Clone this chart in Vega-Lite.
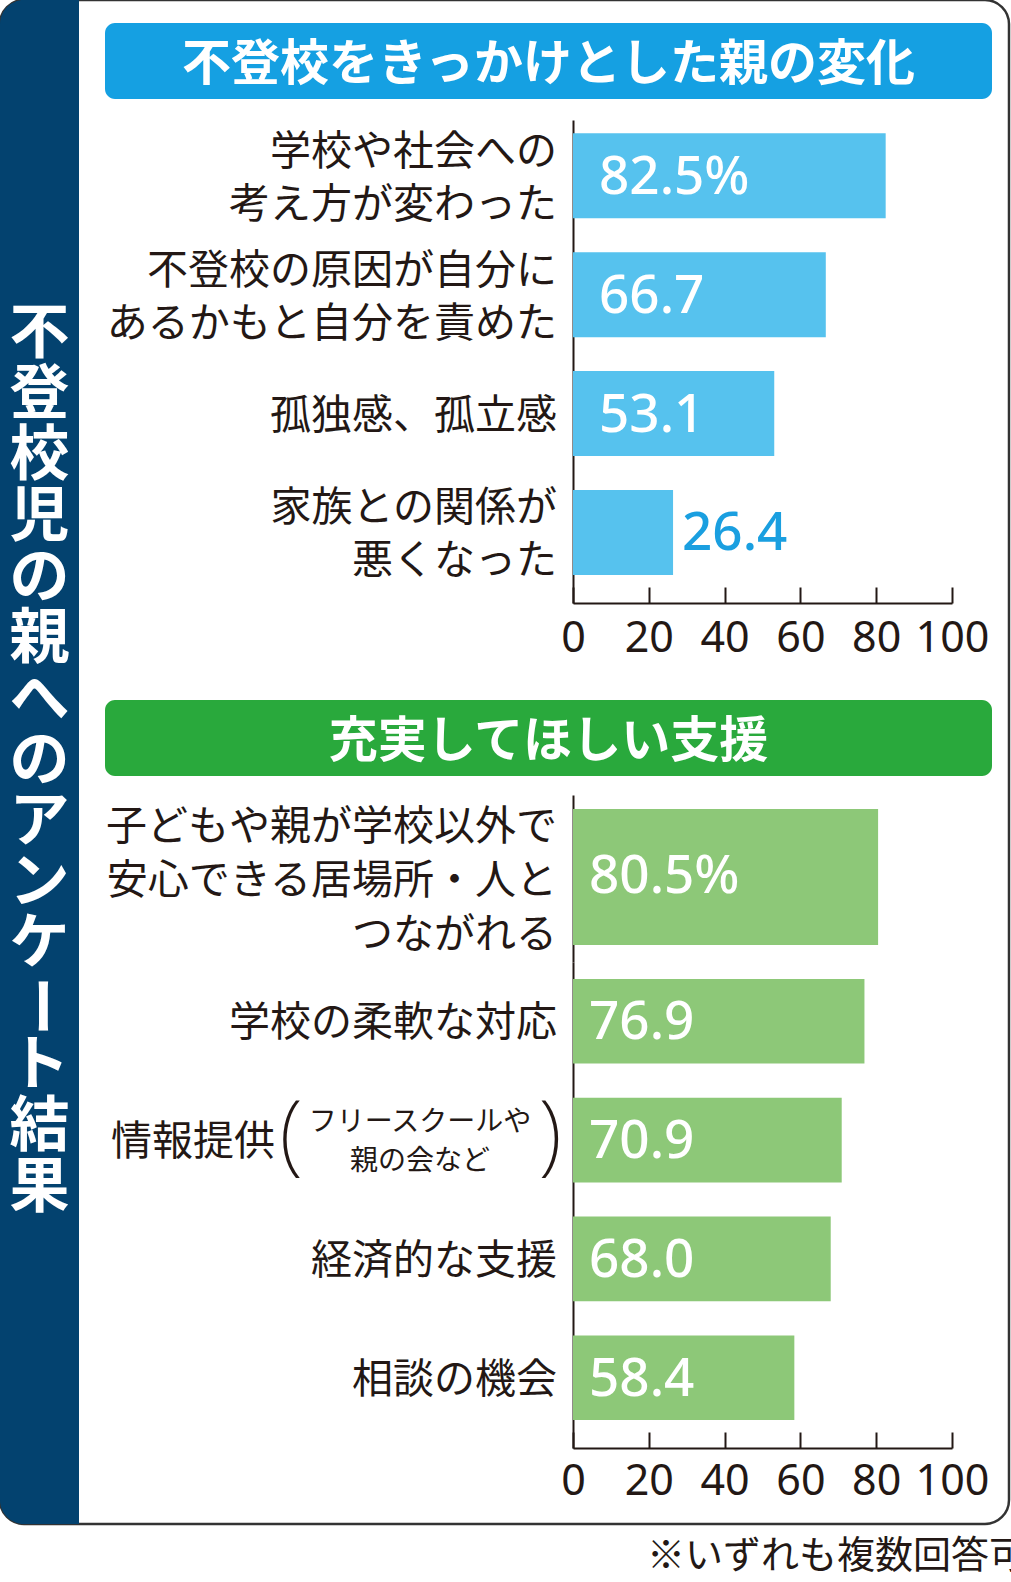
{
  "$schema": "https://vega.github.io/schema/vega-lite/v6.json",
  "width": 1009,
  "height": 1524,
  "autosize": "none",
  "padding": {"left": 0, "top": 0, "right": 2, "bottom": 58},
  "background": "#ffffff",
  "title": {
    "text": "※いずれも複数回答可",
    "orient": "bottom",
    "anchor": "end",
    "offset": 14,
    "dx": 18,
    "fontSize": 38,
    "fontWeight": "normal",
    "font": "Noto Sans CJK JP",
    "color": "#231815"
  },
  "datasets": {
    "band": [
      {"title": "不登校児の親へのアンケート結果", "part1": ["不", "登", "校", "児", "の", "親", "へ", "の", "ア", "ン", "ケ"], "dash": "ー", "part2": ["ト", "結", "果"]}
    ],
    "headers": [
      {"section": "不登校をきっかけとした親の変化"},
      {"section": "充実してほしい支援"}
    ],
    "changes": [
      {"item": "学校や社会への\n考え方が変わった", "value": 82.5, "vlabel": "82.5%"},
      {"item": "不登校の原因が自分に\nあるかもと自分を責めた", "value": 66.7, "vlabel": "66.7"},
      {"item": "孤独感、孤立感", "value": 53.1, "vlabel": "53.1"},
      {"item": "家族との関係が\n悪くなった", "value": 26.4, "vlabel": "26.4"}
    ],
    "support": [
      {"item": "子どもや親が学校以外で\n安心できる居場所・人と\nつながれる", "value": 80.5, "vlabel": "80.5%"},
      {"item": "学校の柔軟な対応", "value": 76.9, "vlabel": "76.9"},
      {"item": "情報提供", "note": "フリースクールや\n親の会など", "value": 70.9, "vlabel": "70.9"},
      {"item": "経済的な支援", "value": 68.0, "vlabel": "68.0"},
      {"item": "相談の機会", "value": 58.4, "vlabel": "58.4"}
    ]
  },
  "resolve": {"scale": {"x": "independent", "y": "independent", "color": "independent"}},
  "layer": [
    {
      "data": {"name": "band"},
      "encoding": {
        "x": {"datum": 0.5, "type": "quantitative", "scale": {"domain": [0, 1], "range": [0, 79]}, "axis": null},
        "y": {"datum": 0.5, "type": "quantitative", "scale": {"domain": [0, 1], "range": [0, 1524]}, "axis": null}
      },
      "layer": [
        {
          "mark": {"type": "rect", "color": "#03426f", "cornerRadiusTopLeft": 24, "cornerRadiusBottomLeft": 24},
          "encoding": {
            "x": {"datum": 0, "type": "quantitative"},
            "x2": {"datum": 1},
            "y": {"datum": 0, "type": "quantitative"},
            "y2": {"datum": 1}
          }
        },
        {
          "mark": {"type": "text", "font": "Noto Sans CJK JP", "fontWeight": "bold", "fontSize": 60, "lineHeight": 61, "align": "center", "baseline": "middle", "color": "#ffffff", "dy": -427},
          "encoding": {"text": {"field": "part1"}}
        },
        {
          "mark": {"type": "text", "font": "Noto Sans CJK JP", "fontWeight": "bold", "fontSize": 60, "align": "center", "baseline": "middle", "color": "#ffffff", "angle": 90, "dx": 244, "dy": 2},
          "encoding": {"text": {"field": "dash"}}
        },
        {
          "mark": {"type": "text", "font": "Noto Sans CJK JP", "fontWeight": "bold", "fontSize": 60, "lineHeight": 61, "align": "center", "baseline": "middle", "color": "#ffffff", "dy": 305},
          "encoding": {"text": {"field": "part2"}}
        }
      ]
    },
    {
      "data": {"name": "headers"},
      "encoding": {
        "y": {"field": "section", "type": "nominal", "sort": null, "scale": {"range": [23, 776], "paddingInner": 0.8877, "paddingOuter": 0}, "axis": null}
      },
      "layer": [
        {
          "mark": {"type": "bar", "cornerRadius": 10},
          "encoding": {
            "x": {"datum": 0, "type": "quantitative", "scale": {"domain": [0, 1], "range": [105, 992]}, "axis": null},
            "x2": {"datum": 1},
            "color": {"field": "section", "type": "nominal", "scale": {"domain": ["不登校をきっかけとした親の変化", "充実してほしい支援"], "range": ["#15a0e2", "#29a93c"]}, "legend": null}
          }
        },
        {
          "mark": {"type": "text", "font": "Noto Sans CJK JP", "fontWeight": "bold", "fontSize": 49, "align": "center", "baseline": "middle", "color": "#ffffff", "dy": 4},
          "encoding": {"x": {"datum": 0.5, "type": "quantitative"}, "text": {"field": "section"}}
        }
      ]
    },
    {
      "data": {"name": "changes"},
      "encoding": {
        "y": {
          "field": "item", "type": "nominal", "sort": null,
          "scale": {"range": [120, 603], "paddingInner": 0.285, "paddingOuter": 0.1737, "align": 0.322},
          "axis": {"orient": "left", "offset": -573, "labels": false, "ticks": false, "title": null, "grid": false, "domainColor": "#231815", "domainWidth": 2}
        }
      },
      "layer": [
        {
          "mark": {"type": "bar", "color": "#56c2ee"},
          "encoding": {
            "x": {
              "field": "value", "type": "quantitative",
              "scale": {"domain": [0, 100], "range": [573, 952], "nice": false},
              "axis": {"orient": "bottom", "offset": -921, "values": [0, 20, 40, 60, 80, 100], "title": null, "grid": false, "domainColor": "#231815", "domainWidth": 2, "tickColor": "#231815", "tickWidth": 2, "tickSize": -16, "labelPadding": 30, "labelFontSize": 43, "labelFont": "Noto Sans", "labelColor": "#231815", "labelFlush": false, "labelOverlap": false, "labelBaseline": "top"}
            }
          }
        },
        {
          "transform": [{"filter": "indexof(datum.item, '\\n') < 0"}],
          "mark": {"type": "text", "font": "Noto Sans CJK JP", "fontSize": 41, "lineHeight": 53, "lineBreak": "\n", "align": "right", "baseline": "middle", "dx": -16, "dy": 3, "color": "#231815"},
          "encoding": {"x": {"datum": 0, "type": "quantitative"}, "text": {"field": "item"}}
        },
        {
          "transform": [{"filter": "indexof(datum.item, '\\n') >= 0"}],
          "mark": {"type": "text", "font": "Noto Sans CJK JP", "fontSize": 41, "lineHeight": 53, "lineBreak": "\n", "align": "right", "baseline": "middle", "dx": -16, "dy": -23, "color": "#231815"},
          "encoding": {"x": {"datum": 0, "type": "quantitative"}, "text": {"field": "item"}}
        },
        {
          "transform": [{"filter": "datum.value >= 40"}],
          "mark": {"type": "text", "font": "Noto Sans", "fontWeight": 500, "fontSize": 53, "align": "left", "baseline": "middle", "dx": 26, "dy": 2, "color": "#ffffff"},
          "encoding": {"x": {"datum": 0, "type": "quantitative"}, "text": {"field": "vlabel"}}
        },
        {
          "transform": [{"filter": "datum.value < 40"}],
          "mark": {"type": "text", "font": "Noto Sans", "fontWeight": 500, "fontSize": 53, "align": "left", "baseline": "middle", "dx": 9, "dy": 2, "color": "#1a9fe0"},
          "encoding": {"x": {"field": "value", "type": "quantitative"}, "text": {"field": "vlabel"}}
        }
      ]
    },
    {
      "data": {"name": "support"},
      "transform": [{"filter": {"field": "item", "equal": "子どもや親が学校以外で\n安心できる居場所・人と\nつながれる"}}],
      "encoding": {
        "y": {
          "field": "item", "type": "nominal", "sort": null,
          "scale": {"range": [795, 962], "paddingInner": 0, "paddingOuter": 0.114, "align": 0.45},
          "axis": {"orient": "left", "offset": -573, "labels": false, "ticks": false, "title": null, "grid": false, "domainColor": "#231815", "domainWidth": 2}
        }
      },
      "layer": [
        {
          "mark": {"type": "bar", "color": "#8dc878"},
          "encoding": {
            "x": {"field": "value", "type": "quantitative", "scale": {"domain": [0, 100], "range": [573, 952], "nice": false}, "axis": null}
          }
        },
        {
          "mark": {"type": "text", "font": "Noto Sans CJK JP", "fontSize": 41, "lineHeight": 54, "lineBreak": "\n", "align": "right", "baseline": "middle", "dx": -16, "dy": -49, "color": "#231815"},
          "encoding": {"x": {"datum": 0, "type": "quantitative"}, "text": {"field": "item"}}
        },
        {
          "mark": {"type": "text", "font": "Noto Sans", "fontWeight": 500, "fontSize": 53, "align": "left", "baseline": "middle", "dx": 16, "dy": 0, "color": "#ffffff"},
          "encoding": {"x": {"datum": 0, "type": "quantitative"}, "text": {"field": "vlabel"}}
        }
      ]
    },
    {
      "data": {"name": "support"},
      "transform": [{"filter": {"not": {"field": "item", "equal": "子どもや親が学校以外で\n安心できる居場所・人と\nつながれる"}}}],
      "encoding": {
        "y": {
          "field": "item", "type": "nominal", "sort": null,
          "scale": {"range": [962, 1448], "paddingInner": 0.288, "paddingOuter": 0.1896, "align": 0.378},
          "axis": {"orient": "left", "offset": -573, "labels": false, "ticks": false, "title": null, "grid": false, "domainColor": "#231815", "domainWidth": 2}
        }
      },
      "layer": [
        {
          "mark": {"type": "bar", "color": "#8dc878"},
          "encoding": {
            "x": {
              "field": "value", "type": "quantitative",
              "scale": {"domain": [0, 100], "range": [573, 952], "nice": false},
              "axis": {"orient": "bottom", "offset": -76, "values": [0, 20, 40, 60, 80, 100], "title": null, "grid": false, "domainColor": "#231815", "domainWidth": 2, "tickColor": "#231815", "tickWidth": 2, "tickSize": -16, "labelPadding": 28, "labelFontSize": 43, "labelFont": "Noto Sans", "labelColor": "#231815", "labelFlush": false, "labelOverlap": false, "labelBaseline": "top"}
            }
          }
        },
        {
          "transform": [{"filter": "!isValid(datum.note)"}],
          "mark": {"type": "text", "font": "Noto Sans CJK JP", "fontSize": 41, "align": "right", "baseline": "middle", "dx": -16, "dy": 3, "color": "#231815"},
          "encoding": {"x": {"datum": 0, "type": "quantitative"}, "text": {"field": "item"}}
        },
        {
          "transform": [{"filter": "isValid(datum.note)"}],
          "mark": {"type": "text", "font": "Noto Sans CJK JP", "fontSize": 41, "align": "right", "baseline": "middle", "dx": -298, "dy": 3, "color": "#231815"},
          "encoding": {"x": {"datum": 0, "type": "quantitative"}, "text": {"field": "item"}}
        },
        {
          "transform": [{"filter": "isValid(datum.note)"}],
          "mark": {"type": "text", "font": "Noto Sans CJK JP", "fontSize": 28, "lineHeight": 39, "lineBreak": "\n", "align": "center", "baseline": "middle", "dx": -153, "dy": -17, "color": "#231815"},
          "encoding": {"x": {"datum": 0, "type": "quantitative"}, "text": {"field": "note"}}
        },
        {
          "transform": [{"filter": "isValid(datum.note)"}],
          "mark": {"type": "text", "text": "(", "font": "Noto Sans", "fontWeight": 200, "fontSize": 88, "align": "center", "baseline": "middle", "dx": -282, "dy": -2, "color": "#231815"},
          "encoding": {"x": {"datum": 0, "type": "quantitative"}}
        },
        {
          "transform": [{"filter": "isValid(datum.note)"}],
          "mark": {"type": "text", "text": ")", "font": "Noto Sans", "fontWeight": 200, "fontSize": 88, "align": "center", "baseline": "middle", "dx": -23, "dy": -2, "color": "#231815"},
          "encoding": {"x": {"datum": 0, "type": "quantitative"}}
        },
        {
          "mark": {"type": "text", "font": "Noto Sans", "fontWeight": 500, "fontSize": 53, "align": "left", "baseline": "middle", "dx": 16, "dy": 2, "color": "#ffffff"},
          "encoding": {"x": {"datum": 0, "type": "quantitative"}, "text": {"field": "vlabel"}}
        }
      ]
    }
  ],
  "config": {
    "view": {"stroke": "#333333", "strokeWidth": 2.5, "cornerRadius": 24, "fill": "#ffffff"},
    "font": "Noto Sans CJK JP"
  }
}
